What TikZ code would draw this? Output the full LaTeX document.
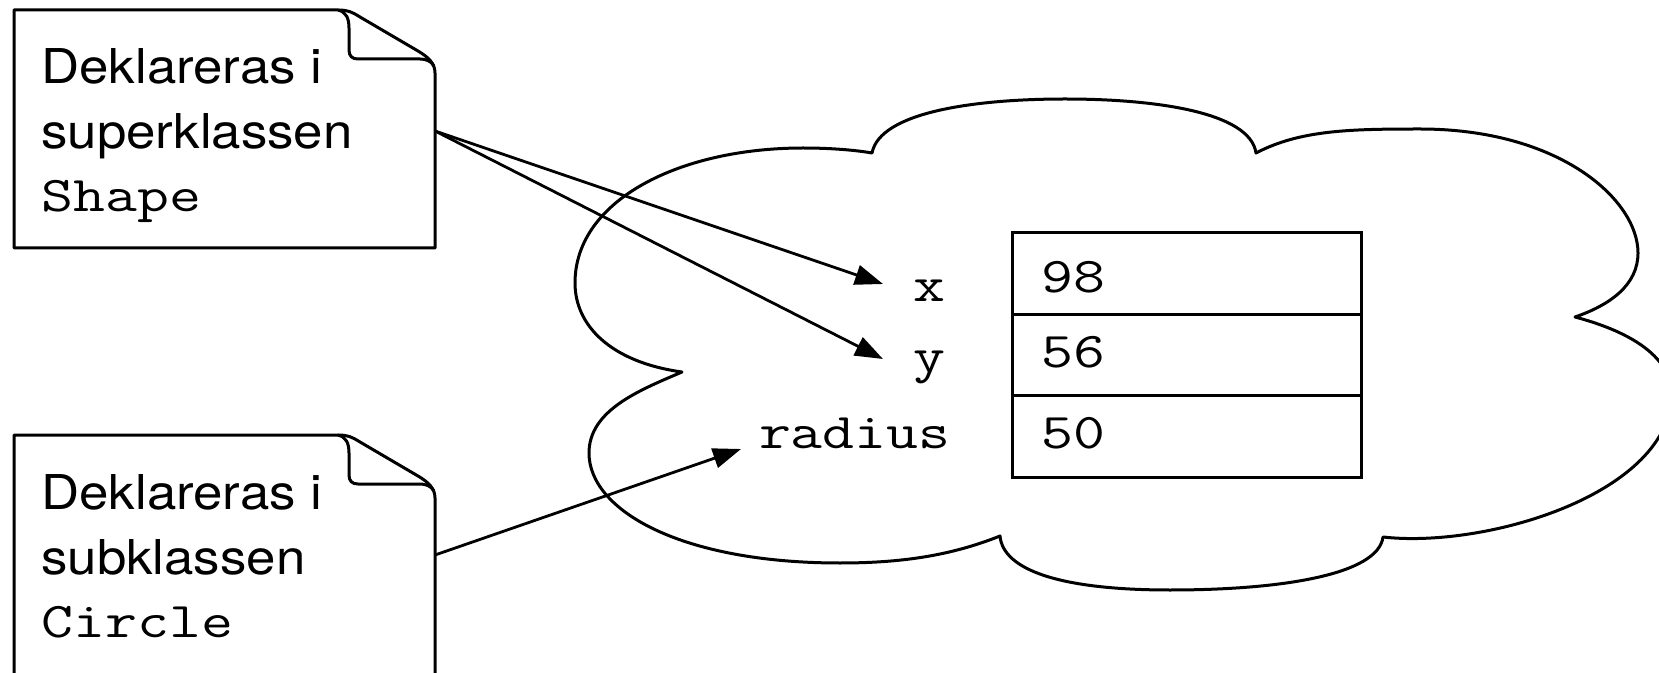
\documentclass[tikz,border=0pt]{standalone}
\usepackage{fontspec}
\setmainfont{TeX Gyre Heros}
\newfontfamily\notefont{TeX Gyre Heros}[FakeStretch=1.10]
\newfontfamily\codefont{Latin Modern Mono}[FakeStretch=1.24]
\usetikzlibrary{arrows.meta}

\tikzset{
  outline/.style={line width=1.5pt, line join=round},
  notetext/.style={inner sep=0pt, anchor=base west, font=\notefont\fontsize{24pt}{28pt}\selectfont},
  codetext/.style={inner sep=0pt, font=\codefont\fontsize{25pt}{28pt}\selectfont},
  cell/.style={draw, line width=1.5pt, minimum width=174.5pt, minimum height=40.75pt, inner sep=0pt},
  pointer/.style={line width=1.4pt, -{Triangle[length=14pt,width=10pt]}},
}

\begin{document}
\begin{tikzpicture}[x=0.5pt, y=-0.5pt]
\useasboundingbox (0,0) rectangle (1659,673);
\clip (0,0) rectangle (1659,673);

% object cloud
\draw[outline] (872,153)
  .. controls (880,112) and (975,99) .. (1065,99)
  .. controls (1155,99) and (1250,112) .. (1256,153)
  .. controls (1300,130) and (1350,129) .. (1420,129)
  .. controls (1560,129) and (1638,200) .. (1638,253)
  .. controls (1638,285) and (1610,305) .. (1575,317)
  .. controls (1650,337) and (1680,370) .. (1670,410)
  .. controls (1650,500) and (1480,548) .. (1383,537)
  .. controls (1378,575) and (1280,590) .. (1170,590)
  .. controls (1060,590) and (1003,570) .. (1000,536)
  .. controls (950,556) and (900,563) .. (840,563)
  .. controls (680,563) and (589,510) .. (589,453)
  .. controls (589,410) and (640,390) .. (682,372)
  .. controls (610,362) and (575,325) .. (575,283)
  .. controls (575,200) and (680,148) .. (803,148)
  .. controls (830,148) and (855,150) .. cycle;

% upper note with folded corner
\draw[outline] (14,10) -- (338,10) .. controls (348,10) and (352,12) .. (360,17)
  -- (418,51) .. controls (428,57) and (435,63) .. (435,73) -- (435,248) -- (14,248) -- cycle;
\draw[outline] (338,10) .. controls (346,12) and (349,18) .. (349,28) -- (349,50)
  .. controls (349,56) and (352,59) .. (358,59) -- (420,59) .. controls (426,59) and (431,61) .. (434,66);

% lower note with folded corner
\draw[outline] (14,435) -- (338,435) .. controls (348,435) and (352,437) .. (360,442)
  -- (418,476) .. controls (428,482) and (435,488) .. (435,498) -- (435,700) -- (14,700) -- cycle;
\draw[outline] (338,435) .. controls (346,437) and (349,443) .. (349,453) -- (349,475)
  .. controls (349,481) and (352,484) .. (358,484) -- (420,484) .. controls (426,484) and (431,486) .. (434,491);

% note texts
\node[notetext] (n1a) at (41,84) {Deklareras i};
\node[notetext] (n1b) at (41,149) {superklassen};
\node[codetext, anchor=base west] (n1c) at (41,212) {Shape};
\node[notetext] (n2a) at (41,509) {Deklareras i};
\node[notetext] (n2b) at (41,574) {subklassen};
\node[codetext, anchor=base west] (n2c) at (41,637) {Circle};

% field table
\node[cell] (c1) at (1187,273.5) {};
\node[cell] (c2) at (1187,355) {};
\node[cell] (c3) at (1187,436.5) {};
\node[codetext, anchor=base west] (v1) at (1041,293) {98};
\node[codetext, anchor=base west] (v2) at (1041,368) {56};
\node[codetext, anchor=base west] (v3) at (1041,449) {50};

% field names
\node[codetext, anchor=base east] (lx) at (946,302) {x};
\node[codetext, anchor=base east] (ly) at (946,372) {y};
\node[codetext, anchor=base east] (lr) at (951,448) {radius};

% pointers from notes to fields
\coordinate (s1) at (435,131);
\coordinate (s2) at (435,555);
\coordinate (tx) at (883,284);
\coordinate (ty) at (883,359);
\coordinate (tr) at (741,449);
\draw[pointer] (s1) -- (tx);
\draw[pointer] (s1) -- (ty);
\draw[pointer] (s2) -- (tr);
\end{tikzpicture}
\end{document}
